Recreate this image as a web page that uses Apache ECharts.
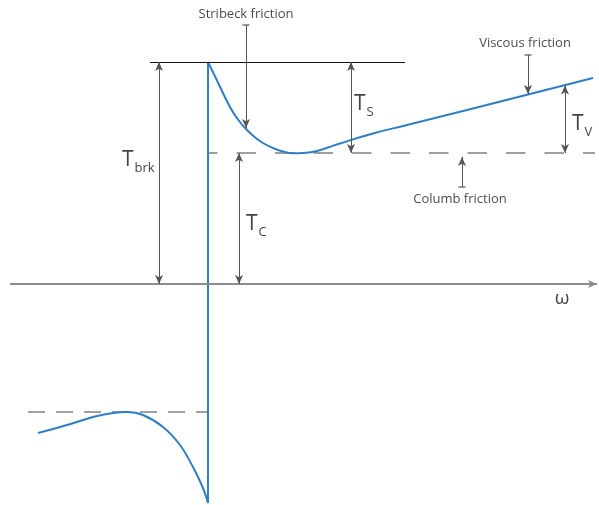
<!DOCTYPE html>
<html>
<head>
<meta charset="utf-8">
<title>Friction model</title>
<script src="https://cdn.jsdelivr.net/npm/echarts@6/dist/echarts.min.js"></script>
<style>
  html, body { margin: 0; padding: 0; background: #ffffff; }
  #chart { width: 599px; height: 505px; }
</style>
</head>
<body>
<div id="chart"></div>
<script>
// Friction torque versus angular speed (omega)
const rightBranch = [
  [0, 2.22], [0.09, 2.035], [0.22, 1.77], [0.30, 1.645], [0.37, 1.56],
  [0.46, 1.475], [0.55, 1.41], [0.65, 1.36], [0.75, 1.325], [0.85, 1.308],
  [0.95, 1.31], [1.09, 1.33], [1.20, 1.365], [1.32, 1.405], [1.65, 1.505],
  [1.99, 1.59], [2.59, 1.74], [3.20, 1.895], [3.85, 2.06]
];
const leftBranch = [
  [-1.70, -1.49], [-1.41, -1.41], [-1.15, -1.33], [-0.95, -1.29], [-0.81, -1.28],
  [-0.65, -1.31], [-0.45, -1.43], [-0.28, -1.61], [-0.15, -1.83], [-0.05, -2.04], [0, -2.19]
];
const breakaway = 2.22;      // T_brk
const coulomb = 1.31;        // T_C
const coulombNeg = -1.28;
const breakawayNeg = -2.19;

const annotations = [
  { name: 'Stribeck friction', at: [0.38, 2.70] },
  { name: 'Viscous friction', at: [3.17, 2.41] },
  { name: 'Columb friction', at: [2.52, 0.85] }
];
const symbols = [
  { main: 'T', sub: 'brk', at: [-0.86, 1.24] },
  { main: 'T', sub: 'S', at: [1.46, 1.80] },
  { main: 'T', sub: 'C', at: [0.38, 0.60] },
  { main: 'T', sub: 'V', at: [3.64, 1.60] }
];
const axisName = { text: 'ω', at: [3.54, -0.15] };

const blue = '#2f7ec6';
const arrowGray = '#555555';
const dashGray = '#808080';
const font = '"Open Sans", "Noto Sans", sans-serif';

function seg(a, b, symA, symB, color, width) {
  const mk = s => s === 'arrow' ? { symbol: 'arrow', symbolSize: [6, 9] }
    : s === 'bar' ? { symbol: 'rect', symbolSize: [7, 1.2] }
    : { symbol: 'none' };
  return [
    Object.assign({ coord: a, lineStyle: { color: color || arrowGray, width: width || 1, type: 'solid' } }, mk(symA)),
    Object.assign({ coord: b }, mk(symB))
  ];
}

// curve value under the T_V arrow
const tvX = 3.57;
const tvTop = 1.985;

const guideLines = [
  // omega axis
  seg([-1.98, 0], [3.89, 0], 'none', 'arrow', '#8c8c8c', 2),
  // breakaway level
  seg([-0.58, breakaway], [1.97, breakaway], 'none', 'none', '#111111', 1),
  // T_brk span
  seg([-0.49, 0], [-0.49, breakaway], 'arrow', 'arrow'),
  // T_C span
  seg([0.31, 0], [0.31, coulomb], 'arrow', 'arrow'),
  // T_S span
  seg([1.43, coulomb], [1.43, breakaway], 'arrow', 'arrow'),
  // T_V span
  seg([tvX, coulomb], [tvX, tvTop], 'arrow', 'arrow'),
  // Stribeck pointer
  seg([0.38, 2.59], [0.38, 1.56], 'bar', 'arrow'),
  // Viscous pointer
  seg([3.20, 2.29], [3.20, 1.90], 'bar', 'arrow'),
  // Coulomb pointer
  seg([2.54, 0.97], [2.54, 1.27], 'bar', 'arrow')
];

const chart = echarts.init(document.getElementById('chart'), null, { renderer: 'canvas' });
chart.setOption({
  backgroundColor: '#ffffff',
  animation: false,
  grid: { left: 0, right: 0, top: 0, bottom: 0 },
  xAxis: { type: 'value', min: -2.08, max: 3.91, show: false },
  yAxis: { type: 'value', min: -2.21, max: 2.84, show: false },
  series: [
    {
      name: 'guides', type: 'line', data: [], silent: true,
      markLine: {
        silent: true, animation: false, precision: 4,
        label: { show: false }, emphasis: { disabled: true },
        data: guideLines
      }
    },
    {
      name: 'coulomb level', type: 'line', silent: true, symbol: 'none',
      data: [[0, coulomb], [3.87, coulomb]],
      lineStyle: { color: dashGray, width: 1.5, type: [19.5, 19], dashOffset: 10 }
    },
    {
      name: 'coulomb level negative', type: 'line', silent: true, symbol: 'none',
      data: [[-1.80, coulombNeg], [0, coulombNeg]],
      lineStyle: { color: dashGray, width: 1.5, type: [17, 11] }
    },
    {
      name: 'static jump', type: 'line', silent: true, symbol: 'none',
      data: [[0, breakaway], [0, breakawayNeg]],
      lineStyle: { color: blue, width: 2 }
    },
    {
      name: 'positive speed', type: 'line', silent: true, symbol: 'none', smooth: 0.5,
      data: rightBranch, lineStyle: { color: blue, width: 2 }
    },
    {
      name: 'negative speed', type: 'line', silent: true, symbol: 'none', smooth: 0.4,
      data: leftBranch, lineStyle: { color: blue, width: 2 }
    },
    {
      name: 'annotations', type: 'scatter', silent: true, symbolSize: 0,
      data: annotations.map(a => ({ name: a.name, value: a.at })),
      label: {
        show: true, position: 'inside', formatter: '{b}',
        color: '#1a1a1a', fontSize: 13, fontFamily: font,
        align: 'center', verticalAlign: 'middle'
      }
    },
    {
      name: 'symbols', type: 'scatter', silent: true, symbolSize: 0,
      data: symbols.map(s => ({ name: s.sub, value: s.at, main: s.main })),
      label: {
        show: true, position: 'inside',
        formatter: p => '{t|' + p.data.main + '}{s|' + p.data.name + '}',
        align: 'left', verticalAlign: 'middle',
        rich: {
          t: { fontSize: 21, fontFamily: font, color: '#111', lineHeight: 30, verticalAlign: 'middle' },
          s: { fontSize: 13, fontFamily: font, color: '#111', lineHeight: 30, verticalAlign: 'middle', padding: [16, 0, 0, 1] }
        }
      }
    },
    {
      name: 'axis name', type: 'scatter', silent: true, symbolSize: 0,
      data: [{ name: axisName.text, value: axisName.at }],
      label: {
        show: true, position: 'inside', formatter: '{b}',
        color: '#111', fontSize: 19, fontFamily: font,
        align: 'center', verticalAlign: 'middle'
      }
    }
  ]
});
</script>
</body>
</html>
